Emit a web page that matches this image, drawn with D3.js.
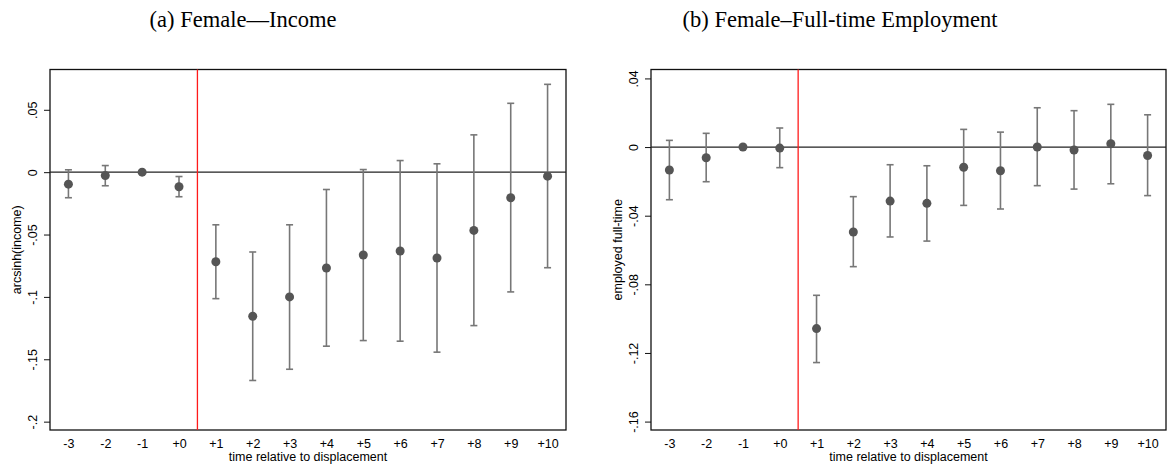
<!DOCTYPE html>
<html>
<head>
<meta charset="utf-8">
<script src="https://cdn.jsdelivr.net/npm/d3@7"></script>
<style>
html,body{margin:0;padding:0;background:#fff;}
svg{display:block;}
</style>
</head>
<body>
<svg id="chart" width="1167" height="468"></svg>
<script>
// ---- data ----
const periods = ["-3","-2","-1","+0","+1","+2","+3","+4","+5","+6","+7","+8","+9","+10"];
const periodValues = [-3,-2,-1,0,1,2,3,4,5,6,7,8,9,10];

const incomeEst = [-0.0096,-0.0027,0,-0.0117,-0.0718,-0.1155,-0.1000,-0.0768,-0.0664,-0.0632,-0.0688,-0.0467,-0.0205,-0.0032];
const incomeLo  = [-0.0205,-0.0109,null,-0.0197,-0.1014,-0.1670,-0.1580,-0.1395,-0.1350,-0.1355,-0.1443,-0.1230,-0.0960,-0.0766];
const incomeHi  = [0.0019,0.0053,null,-0.0035,-0.0422,-0.0640,-0.0422,-0.0139,0.0021,0.0093,0.0067,0.0299,0.0552,0.0704];

const empEst = [-0.0134,-0.0062,0,-0.0006,-0.1058,-0.0495,-0.0315,-0.0328,-0.0118,-0.0138,0.0000,-0.0017,0.0019,-0.0049];
const empLo  = [-0.0307,-0.0202,null,-0.0120,-0.1256,-0.0697,-0.0524,-0.0548,-0.0340,-0.0361,-0.0225,-0.0245,-0.0214,-0.0283];
const empHi  = [0.0039,0.0080,null,0.0111,-0.0864,-0.0289,-0.0103,-0.0109,0.0103,0.0087,0.0229,0.0212,0.0249,0.0188];

const incomeTicks = [0.05,0,-0.05,-0.1,-0.15,-0.2];
const incomeTickLabels = [".05","0","-.05","-.1","-.15","-.2"];
const empTicks = [0.04,0,-0.04,-0.08,-0.12,-0.16];
const empTickLabels = [".04","0","-.04","-.08","-.12","-.16"];

const titles = ["(a) Female\u2014Income","(b) Female\u2013Full-time Employment"];
const yTitles = ["arcsinh(income)","employed full-time"];
const xTitle = "time relative to displacement";
const eventLine = 0.5;

// ---- layout ----
const svg = d3.select("#chart");
const panels = [
  {left:50, right:566, top:69.5, bottom:430, yDomain:[-0.2067,0.0823], est:incomeEst, lo:incomeLo, hi:incomeHi, ticks:incomeTicks, tickLabels:incomeTickLabels, title:titles[0], yTitle:yTitles[0], titleX:243},
  {left:651, right:1166, top:69.5, bottom:430, yDomain:[-0.1649,0.0452], est:empEst, lo:empLo, hi:empHi, ticks:empTicks, tickLabels:empTickLabels, title:titles[1], yTitle:yTitles[1], titleX:840}
];

panels.forEach(p => {
  const g = svg.append("g");
  const x = d3.scaleLinear().domain([-3.5,10.5]).range([p.left,p.right]);
  const y = d3.scaleLinear().domain(p.yDomain).range([p.bottom,p.top]);

  // title
  g.append("text").attr("x",p.titleX).attr("y",27).attr("text-anchor","middle")
    .attr("font-family","'Liberation Serif','DejaVu Serif',serif").attr("font-size",22.5)
    .attr("fill","#000").text(p.title);

  // frame
  g.append("rect").attr("x",p.left).attr("y",p.top).attr("width",p.right-p.left).attr("height",p.bottom-p.top)
    .attr("fill","none").attr("stroke","#111").attr("stroke-width",1.3);

  // y axis
  const yAxis = d3.axisLeft(y).tickValues(p.ticks).tickFormat((d,i)=>p.tickLabels[i]).tickSize(6).tickSizeOuter(0);
  const ya = g.append("g").attr("transform",`translate(${p.left},0)`).call(yAxis);
  ya.select(".domain").remove();
  ya.selectAll(".tick line").attr("stroke","#111").attr("stroke-width",1);
  ya.selectAll(".tick text")
    .attr("font-family","'Liberation Sans',Arial,sans-serif").attr("font-size",12.5).attr("fill","#000")
    .attr("x",null).attr("dy",null)
    .attr("text-anchor","middle")
    .attr("transform","translate(-13,0) rotate(-90)");

  // x axis
  const xAxis = d3.axisBottom(x).tickValues(periodValues).tickFormat((d,i)=>periods[i]).tickSize(0).tickSizeOuter(0);
  const xa = g.append("g").attr("transform",`translate(0,${p.bottom})`).call(xAxis);
  xa.select(".domain").remove();
  xa.selectAll(".tick text")
    .attr("font-family","'Liberation Sans',Arial,sans-serif").attr("font-size",12.5).attr("fill","#000")
    .attr("y",9).attr("dy","0.71em");

  // axis titles
  g.append("text").attr("x",(p.left+p.right)/2).attr("y",461).attr("text-anchor","middle")
    .attr("font-family","'Liberation Sans',Arial,sans-serif").attr("font-size",12.5).attr("fill","#000").text(xTitle);
  g.append("text").attr("transform",`translate(${p.left-29},${(p.top+p.bottom)/2}) rotate(-90)`)
    .attr("text-anchor","middle")
    .attr("font-family","'Liberation Sans',Arial,sans-serif").attr("font-size",12.5).attr("fill","#000").text(p.yTitle);

  // zero line
  g.append("line").attr("x1",p.left).attr("x2",p.right).attr("y1",y(0)).attr("y2",y(0))
    .attr("stroke","#222").attr("stroke-width",1.3);
  // event line
  g.append("line").attr("x1",x(eventLine)).attr("x2",x(eventLine)).attr("y1",p.top).attr("y2",p.bottom)
    .attr("stroke","#ff1a1a").attr("stroke-width",1.3);

  const rows = periodValues.map((v,i)=>({t:v, est:p.est[i], lo:p.lo[i], hi:p.hi[i]}));
  const ci = rows.filter(d=>d.lo!==null);
  const bars = g.append("g").attr("stroke","#777").attr("stroke-width",1.6).attr("fill","none");
  bars.selectAll("line.v").data(ci).join("line").attr("class","v")
    .attr("x1",d=>x(d.t)).attr("x2",d=>x(d.t)).attr("y1",d=>y(d.lo)).attr("y2",d=>y(d.hi));
  bars.selectAll("line.ct").data(ci).join("line").attr("class","ct")
    .attr("x1",d=>x(d.t)-3.5).attr("x2",d=>x(d.t)+3.5).attr("y1",d=>y(d.hi)).attr("y2",d=>y(d.hi));
  bars.selectAll("line.cb").data(ci).join("line").attr("class","cb")
    .attr("x1",d=>x(d.t)-3.5).attr("x2",d=>x(d.t)+3.5).attr("y1",d=>y(d.lo)).attr("y2",d=>y(d.lo));

  g.append("g").selectAll("circle").data(rows).join("circle")
    .attr("cx",d=>x(d.t)).attr("cy",d=>y(d.est)).attr("r",4.5).attr("fill","#555");
});
</script>
</body>
</html>
